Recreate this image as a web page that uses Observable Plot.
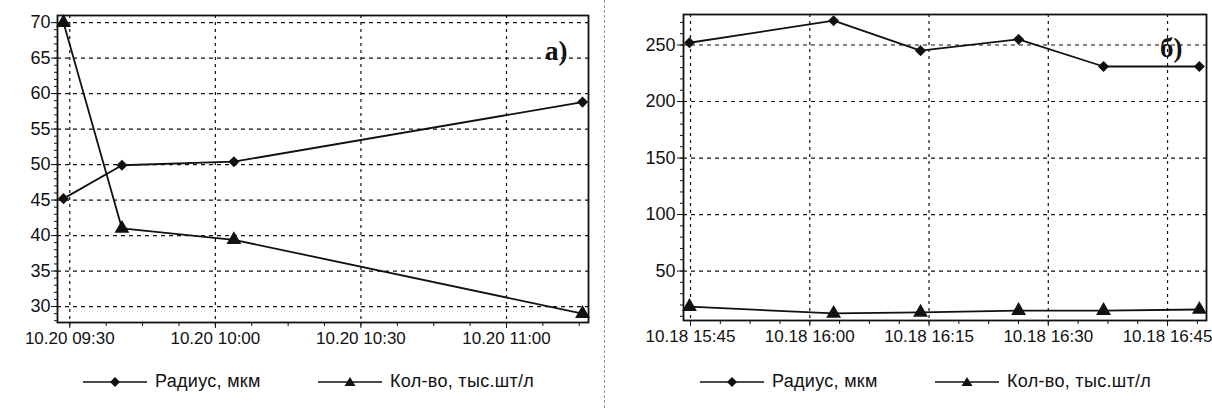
<!DOCTYPE html>
<html>
<head>
<meta charset="utf-8">
<script src="https://cdn.jsdelivr.net/npm/d3@7"></script>
<script src="https://cdn.jsdelivr.net/npm/@observablehq/plot@0.6"></script>
<style>
  body { margin: 0; background: #fff; }
  #wrap { position: relative; width: 1212px; height: 408px; overflow: hidden; font-family: "Liberation Sans", Arial, sans-serif; color: #111; }
  .chart { position: absolute; top: 0; }
  #sep { position: absolute; left: 604px; top: 0; height: 408px; border-left: 1px dashed #999; }
  .leg { position: absolute; display: flex; align-items: center; font-size: 18px; letter-spacing: 0.3px; color: #111; white-space: nowrap; }
  .leg svg { margin-right: 8px; }
</style>
</head>
<body>
<div id="wrap">
  <div id="chartA" class="chart" style="left:0"></div>
  <div id="sep"></div>
  <div id="chartB" class="chart" style="left:606px"></div>
</div>
<script>
// ---- Data ----
const seriesNames = ["Радиус, мкм", "Кол-во, тыс.шт/л"];

// Chart а)
const timesA  = ["2000-10-20T09:28:42Z", "2000-10-20T09:40:45Z", "2000-10-20T10:03:49Z", "2000-10-20T11:15:40Z"];
const radiusA = [45.2, 49.9, 50.4, 58.8];
const countA  = [70, 41, 39.4, 29];
const yTicksA = [30, 35, 40, 45, 50, 55, 60, 65, 70];
const xTicksA = ["2000-10-20T09:30:00Z", "2000-10-20T10:00:00Z", "2000-10-20T10:30:00Z", "2000-10-20T11:00:00Z"];
const labelA = "а)";

// Chart б)
const timesB  = ["2000-10-18T15:44:52Z", "2000-10-18T16:03:00Z", "2000-10-18T16:13:56Z", "2000-10-18T16:26:16Z", "2000-10-18T16:36:57Z", "2000-10-18T16:49:00Z"];
const radiusB = [252, 271.5, 245, 255, 231, 231];
const countB  = [18.5, 12.5, 13.4, 15, 15, 16];
const yTicksB = [50, 100, 150, 200, 250];
const xTicksB = ["2000-10-18T15:45:00Z", "2000-10-18T16:00:00Z", "2000-10-18T16:15:00Z", "2000-10-18T16:30:00Z", "2000-10-18T16:45:00Z"];
const labelB = "б)";

// ---- Build ----
const fmt = d3.utcFormat("%m.%d %H:%M");

function rows(times, vals) {
  return times.map((t, i) => ({x: new Date(t), y: vals[i]}));
}

function makeChart(opts) {
  const rad = rows(opts.times, opts.radius);
  const cnt = rows(opts.times, opts.count);
  const xMaj = opts.xTicks.map(t => new Date(t));
  const minorX = [];
  const step = opts.xMinorStepSec * 1000;
  for (let t = xMaj[0].getTime() - Math.floor((xMaj[0] - opts.xDomain[0]) / step) * step; t <= +opts.xDomain[1]; t += step) {
    if (t >= +opts.xDomain[0]) minorX.push(new Date(t));
  }
  const minorY = d3.range(Math.ceil(opts.yDomain[0] / opts.yMinorStep) * opts.yMinorStep, opts.yDomain[1], opts.yMinorStep);
  return Plot.plot({
    width: opts.width,
    height: opts.height,
    marginLeft: opts.ml, marginRight: opts.mr, marginTop: opts.mt, marginBottom: opts.mb,
    style: {fontFamily: "'Liberation Sans', Arial, sans-serif", fontSize: "18px", color: "#111", background: "transparent"},
    x: {type: "utc", domain: opts.xDomain},
    y: {domain: opts.yDomain},
    marks: [
      Plot.gridY(opts.yTicks, {stroke: "#111", strokeOpacity: 1, strokeDasharray: "4,4", strokeWidth: 1.2}),
      Plot.gridX(xMaj, {stroke: "#111", strokeOpacity: 1, strokeDasharray: "3,4", strokeWidth: 1.2}),
      Plot.axisY(minorY, {tickSize: 3, tickFormat: () => "", label: null, stroke: "#111"}),
      Plot.axisY(opts.yTicks, {tickSize: 6, tickPadding: opts.yPad, label: null, fontSize: 18, stroke: "#111"}),
      Plot.axisX(minorX, {tickSize: 4, tickFormat: () => "", label: null, stroke: "#111"}),
      Plot.axisX(xMaj, {tickSize: 6, tickPadding: 3, tickFormat: fmt, label: null, fontSize: 17, stroke: "#111"}),
      Plot.lineY(rad, {x: "x", y: "y", stroke: "#111", strokeWidth: 1.8}),
      Plot.lineY(cnt, {x: "x", y: "y", stroke: "#111", strokeWidth: 1.8}),
      Plot.dot(rad, {x: "x", y: "y", symbol: "diamond2", fill: "#111", r: 5}),
      Plot.dot(cnt, {x: "x", y: "y", symbol: "triangle", fill: "#111", r: 5.5}),
      Plot.frame({stroke: "#111", strokeWidth: 1.8}),
      Plot.text([opts.label], {frameAnchor: "top-right", dx: opts.ldx, dy: opts.ldy, fontSize: 27, fontWeight: "bold", fontFamily: "'Liberation Serif', serif", textAnchor: "end", fill: "#111"})
    ]
  });
}

const chartA = makeChart({
  times: timesA, radius: radiusA, count: countA, yTicks: yTicksA, xTicks: xTicksA, label: labelA,
  width: 606, height: 350, ml: 57, mr: 18, mt: 15, mb: 28,
  xDomain: [new Date("2000-10-20T09:27:28Z"), new Date("2000-10-20T11:16:54Z")],
  yDomain: [27.75, 71], yMinorStep: 1, xMinorStepSec: 450, yPad: 1, ldx: -21, ldy: 25
});
document.getElementById("chartA").appendChild(chartA);

const chartB = makeChart({
  times: timesB, radius: radiusB, count: countB, yTicks: yTicksB, xTicks: xTicksB, label: labelB,
  width: 606, height: 350, ml: 77, mr: 6, mt: 14, mb: 30,
  xDomain: [new Date("2000-10-18T15:44:07Z"), new Date("2000-10-18T16:49:54Z")],
  yDomain: [6.25, 277], yMinorStep: 10, xMinorStepSec: 225, yPad: 2, ldx: -24, ldy: 23
});
document.getElementById("chartB").appendChild(chartB);

// ---- Legends ----
function swatch(symbol) {
  const w = 64, h = 14;
  const path = symbol === "diamond"
    ? `M${w/2},${h/2-5} L${w/2+5},${h/2} L${w/2},${h/2+5} L${w/2-5},${h/2} Z`
    : `M${w/2},${h/2-5} L${w/2+5.5},${h/2+4} L${w/2-5.5},${h/2+4} Z`;
  return `<svg width="${w}" height="${h}"><line x1="0" x2="${w}" y1="${h/2}" y2="${h/2}" stroke="#111" stroke-width="1.4"/><path d="${path}" fill="#111"/></svg>`;
}
const legendItems = [
  {left: 83, sym: "diamond", name: seriesNames[0]},
  {left: 318, sym: "triangle", name: seriesNames[1]},
  {left: 700, sym: "diamond", name: seriesNames[0]},
  {left: 935, sym: "triangle", name: seriesNames[1]}
];
const wrap = document.getElementById("wrap");
legendItems.forEach(it => {
  const d = document.createElement("div");
  d.className = "leg";
  d.style.left = it.left + "px";
  d.style.top = "371px";
  d.innerHTML = swatch(it.sym) + `<span>${it.name}</span>`;
  wrap.appendChild(d);
});
</script>
</body>
</html>
